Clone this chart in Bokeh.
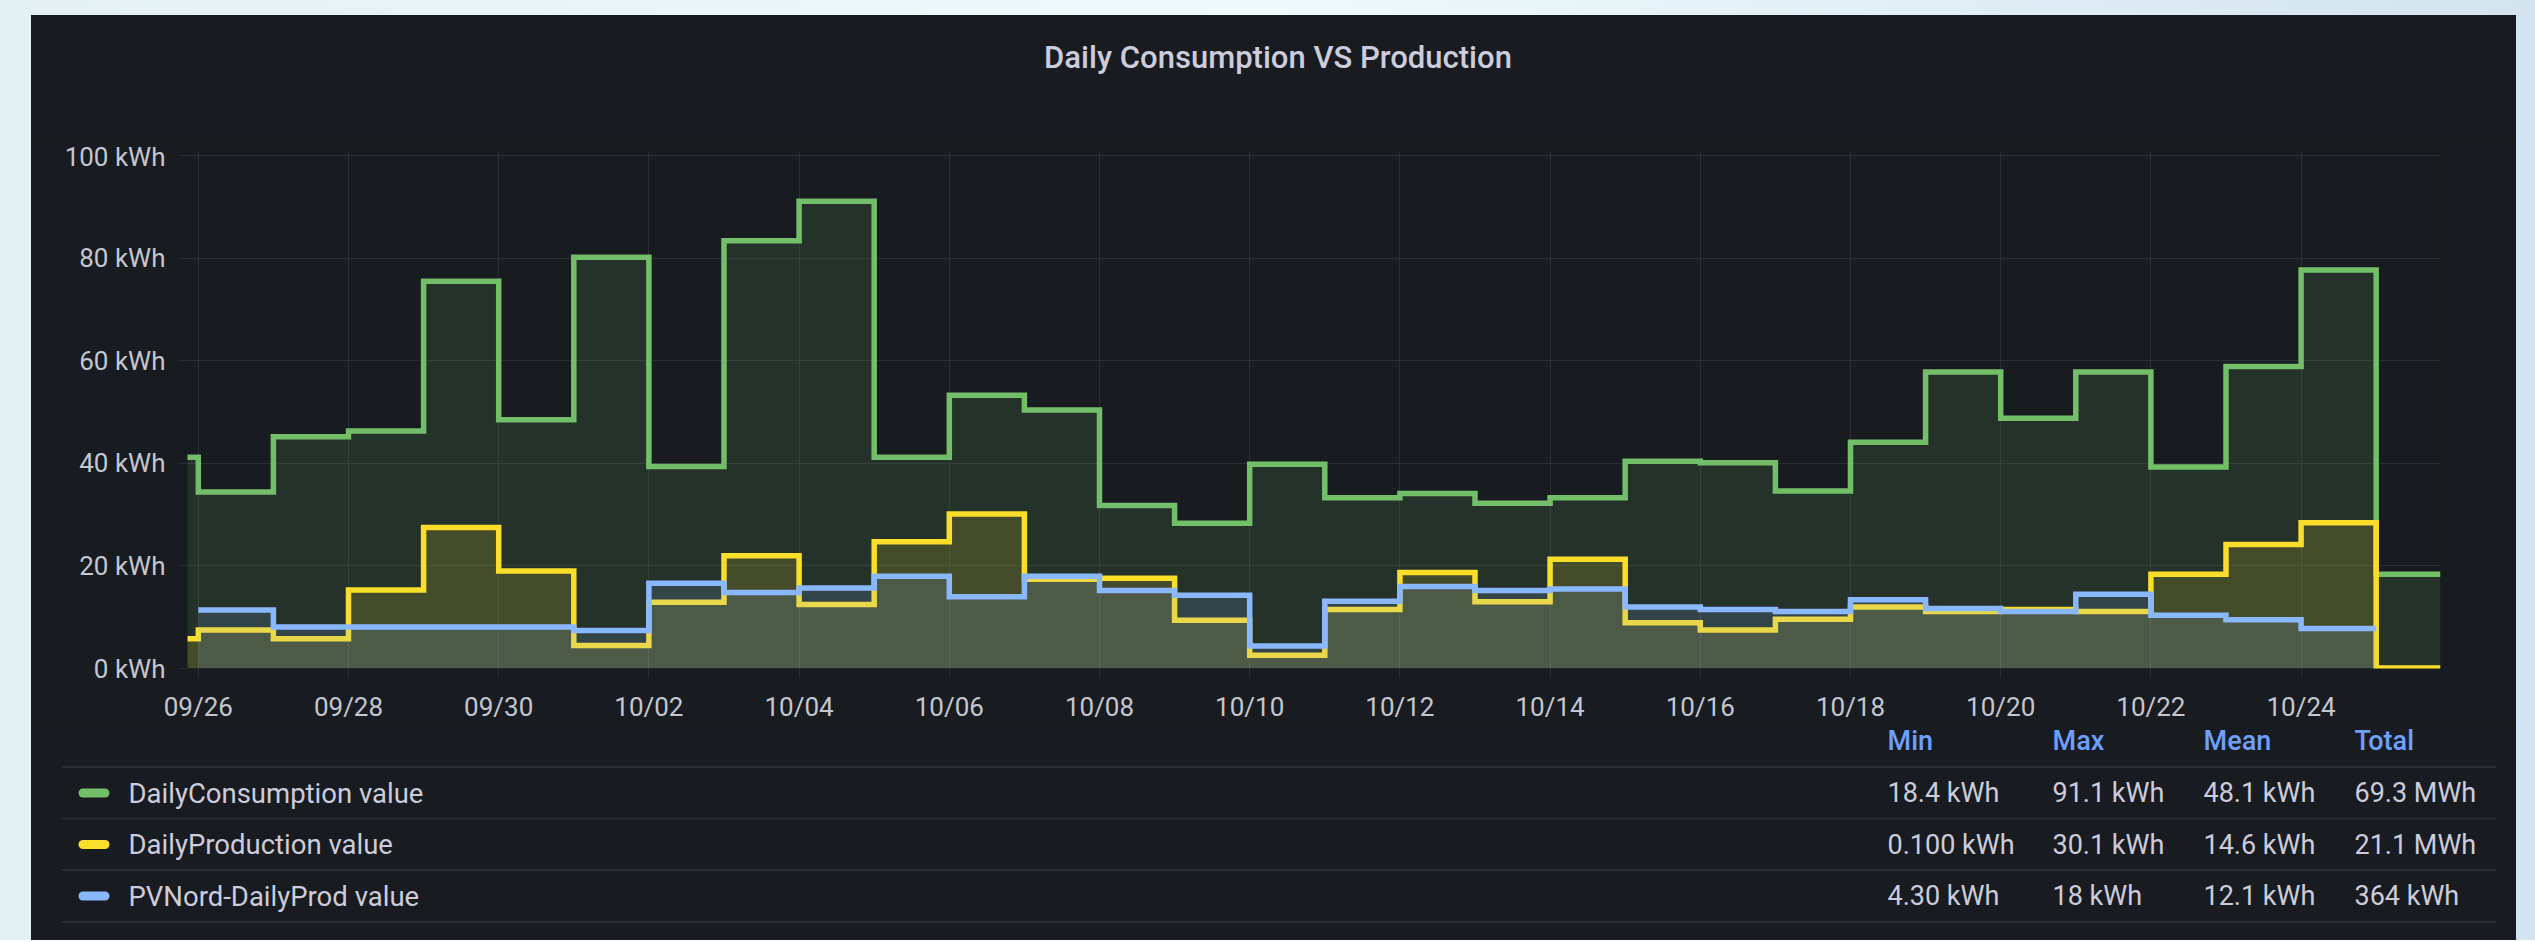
import pandas as pd
from bokeh.plotting import figure
from bokeh.layouts import column
from bokeh.models import (Range1d, FixedTicker, DatetimeTickFormatter,
                          PrintfTickFormatter, ColumnDataSource)
from bokeh.core.properties import value
from bokeh.embed import file_html
from bokeh.resources import INLINE

# ---------------- data ----------------
YEAR = 2023
title_text = "Daily Consumption VS Production"

# one value per day (the value holds from that midnight to the next)
cons_start = "2023-09-25"
consumption = [41.2, 34.4, 45.2, 46.3, 75.5, 48.5, 80.2, 39.4, 83.4, 91.1,
               41.2, 53.3, 50.4, 31.8, 28.3, 39.8, 33.3, 34.1, 32.2, 33.3,
               40.4, 40.1, 34.6, 44.1, 57.8, 48.8, 57.8, 39.3, 58.9, 77.7,
               18.4]
production = [5.8, 7.5, 5.8, 15.3, 27.5, 19.0, 4.5, 12.9, 22.0, 12.5,
              24.7, 30.1, 17.4, 17.6, 9.4, 2.6, 11.5, 18.7, 13.0, 21.3,
              8.9, 7.5, 9.6, 12.0, 11.1, 11.5, 11.1, 18.4, 24.2, 28.4,
              0.1]
pv_start = "2023-09-26"
pv_nord = [11.4, 8.1, 8.1, 8.1, 8.1, 7.4, 16.6, 14.8, 15.7, 18.0,
           14.0, 18.0, 15.2, 14.3, 4.4, 13.1, 16.0, 15.2, 15.5, 12.0,
           11.5, 11.1, 13.4, 11.7, 11.1, 14.5, 10.4, 9.5, 7.8]

x_start = "2023-09-25 20:33"
x_end = "2023-10-25 20:33"
x_tick_labels = ["09/26", "09/28", "09/30", "10/02", "10/04", "10/06", "10/08",
                 "10/10", "10/12", "10/14", "10/16", "10/18", "10/20", "10/22",
                 "10/24"]
y_ticks = [0, 20, 40, 60, 80, 100]

series_names = ["DailyConsumption value", "DailyProduction value",
                "PVNord-DailyProd value"]
series_colors = ["#73bf69", "#fade2a", "#8ab8ff"]
stat_headers = ["Min", "Max", "Mean", "Total"]
stat_min = ["18.4 kWh", "0.100 kWh", "4.30 kWh"]
stat_max = ["91.1 kWh", "30.1 kWh", "18 kWh"]
stat_mean = ["48.1 kWh", "14.6 kWh", "12.1 kWh"]
stat_total = ["69.3 MWh", "21.1 MWh", "364 kWh"]

# ---------------- style ----------------
BG = "#181b1f"
GRID = "#2b2e34"
TXT = "#ccccdc"
AXTXT = "#c4c6d0"
FONT = "Roboto"
FONT_MED = "Roboto Medium"
PANEL_W = 2485
HEAD_H = 126
CHART_H = 584
T_H = 215

xs = pd.Timestamp(x_start)
xe = pd.Timestamp(x_end)


def to_ms(ts):
    return (ts - pd.Timestamp("1970-01-01")) / pd.Timedelta(milliseconds=1)


def step_xy(start, vals, end):
    d = list(pd.date_range(start, periods=len(vals), freq="D"))
    return d + [end], list(vals) + [vals[-1]]


def blank_fig(h):
    f = figure(width=PANEL_W, height=h, x_range=Range1d(0, PANEL_W),
               y_range=Range1d(h, 0), output_backend="svg",
               toolbar_location=None, x_axis_location=None,
               y_axis_location=None, min_border_left=0, min_border_right=0,
               min_border_top=0, min_border_bottom=0,
               background_fill_color=BG, border_fill_color=BG,
               outline_line_color=None)
    f.frame_align = False
    f.xgrid.visible = False
    f.ygrid.visible = False
    return f


# ---------------- title strip ----------------
h = blank_fig(HEAD_H)
h.text(x=[PANEL_W / 2 + 4], y=[42], text=[title_text], text_font=value(FONT_MED),
       text_font_size="31px", text_color=TXT, text_baseline="middle",
       text_align="center")

# ---------------- chart ----------------
p = figure(width=PANEL_W, height=CHART_H, x_axis_type="datetime",
           x_range=Range1d(xs, xe), y_range=Range1d(0, 100.8),
           output_backend="svg", toolbar_location=None, title=None,
           min_border_left=156, min_border_right=76,
           min_border_top=10, min_border_bottom=57,
           background_fill_color=BG, border_fill_color=BG,
           outline_line_color=None)
p.frame_align = False

p.grid.grid_line_color = GRID
p.grid.grid_line_width = 1

p.yaxis.ticker = FixedTicker(ticks=y_ticks)
p.yaxis.formatter = PrintfTickFormatter(format="%d kWh")
tick_ms = [to_ms(pd.Timestamp(f"{YEAR}-{t[:2]}-{t[3:]}")) for t in x_tick_labels]
p.xaxis.ticker = FixedTicker(ticks=tick_ms)
fmt = "%m/%d"
p.xaxis.formatter = DatetimeTickFormatter(days=fmt, months=fmt, hours=fmt,
                                          hourmin=fmt, years=fmt, minutes=fmt,
                                          minsec=fmt, seconds=fmt)
for ax in (p.xaxis[0], p.yaxis[0]):
    ax.axis_line_color = None
    ax.major_tick_line_color = GRID
    ax.major_tick_in = 0
    ax.major_tick_out = 9
    ax.minor_tick_line_color = None
    ax.major_label_text_font = FONT
    ax.major_label_text_font_size = "26px"
    ax.major_label_text_color = AXTXT
p.yaxis.major_label_standoff = 13
p.xaxis.major_label_standoff = 14

series = [
    step_xy(cons_start, consumption, xe),
    step_xy(cons_start, production, xe),
    step_xy(pv_start, pv_nord, pd.Timestamp(pv_start) + pd.Timedelta(days=len(pv_nord))),
]
for (sx, sy), col in zip(series, series_colors):
    src = ColumnDataSource(dict(x=sx, y=sy, z=[0] * len(sy)))
    p.varea_step(x="x", y1="z", y2="y", step_mode="after", source=src,
                 fill_color=col, fill_alpha=0.15)
    p.step(x="x", y="y", mode="after", source=src, line_color=col,
           line_width=5.5, line_join="miter")

# ---------------- legend table ----------------
t = blank_fig(T_H)

row_y = [67.5, 119.0, 170.5]
sep_y = [41.5, 93.0, 144.5, 196.5]
col_x = [1856, 2021, 2172, 2323]
header_y = 15

t.segment(x0=[30] * 4, x1=[2465] * 4, y0=sep_y, y1=sep_y,
          line_color="#2a2d33", line_width=2)
t.segment(x0=[51.5] * 3, x1=[73.5] * 3, y0=row_y, y1=row_y,
          line_color=series_colors, line_width=9, line_cap="round")
t.text(x=[97] * 3, y=row_y, text=series_names, text_font=value(FONT),
       text_font_size="27.5px", text_color=TXT, text_baseline="middle",
       text_align="left")
t.text(x=col_x, y=[header_y] * 4, text=stat_headers, text_font=value(FONT_MED),
       text_font_size="27px", text_color="#6e9fff", text_baseline="middle",
       text_align="left")
for cx, vals in zip(col_x, [stat_min, stat_max, stat_mean, stat_total]):
    t.text(x=[cx] * 3, y=row_y, text=vals, text_font=value(FONT),
           text_font_size="27px", text_color=TXT, text_baseline="middle",
           text_align="left")

h.margin = (15, 19, 0, 31)
p.margin = (0, 19, 0, 31)
t.margin = (0, 19, 0, 31)
bg = ("linear-gradient(#181b1f, #181b1f) 31px 15px / 2485px 925px no-repeat, "
      "linear-gradient(90deg, #e4f1f4 0%, #eefafc 50%, #d3e4f0 100%)")
layout = column(h, p, t, spacing=0, styles={"background": bg})

open("out.html", "w").write(file_html(layout, INLINE))
